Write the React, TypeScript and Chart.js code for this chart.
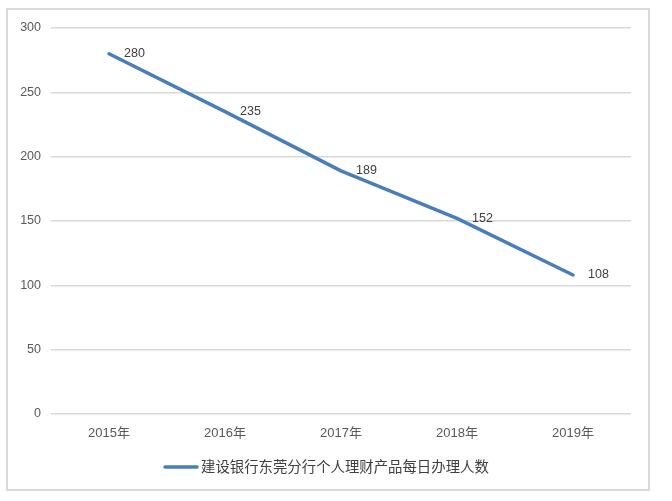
import React, { useEffect, useRef } from "react";
import { Chart, registerables } from "chart.js";

Chart.register(...registerables);

const categories = ["2015年", "2016年", "2017年", "2018年", "2019年"];
const seriesName = "建设银行东莞分行个人理财产品每日办理人数";
const values = [280, 235, 189, 152, 108];
const yTicks = [0, 50, 100, 150, 200, 250, 300];

const LINE_COLOR = "#4a7ebb";
const FONT = "'Liberation Sans', 'Noto Sans CJK SC', sans-serif";

const dataLabelPlugin = {
  id: "dataLabels",
  afterDatasetsDraw(chart: any) {
    const ctx = chart.ctx;
    const meta = chart.getDatasetMeta(0);
    ctx.save();
    ctx.font = `12.5px ${FONT}`;
    ctx.fillStyle = "#404040";
    ctx.textAlign = "left";
    ctx.textBaseline = "middle";
    meta.data.forEach((pt: any, i: number) => {
      ctx.fillText(String(values[i]), pt.x + 15, pt.y);
    });
    ctx.restore();
  },
};

const legendPlugin = {
  id: "customLegend",
  afterDraw(chart: any) {
    const ctx = chart.ctx;
    const y = 467;
    ctx.save();
    ctx.strokeStyle = LINE_COLOR;
    ctx.lineWidth = 3.5;
    ctx.lineCap = "round";
    ctx.beginPath();
    ctx.moveTo(165, y);
    ctx.lineTo(197, y);
    ctx.stroke();
    ctx.font = `14.4px 'Noto Sans CJK SC', sans-serif`;
    ctx.fillStyle = "#404040";
    ctx.textAlign = "left";
    ctx.textBaseline = "middle";
    ctx.fillText(chart.data.datasets[0].label, 201, y);
    ctx.restore();
  },
};

export default function App() {
  const ref = useRef<HTMLCanvasElement | null>(null);
  useEffect(() => {
    if (!ref.current) return;
    const chart = new Chart(ref.current, {
      type: "line",
      data: {
        labels: categories,
        datasets: [
          {
            label: seriesName,
            data: values,
            borderColor: LINE_COLOR,
            borderWidth: 3.5,
            pointRadius: 0,
            borderCapStyle: "round",
            borderJoinStyle: "round",
            tension: 0,
          },
        ],
      },
      options: {
        animation: false,
        responsive: false,
        maintainAspectRatio: false,
        layout: { padding: { top: 28, right: 41, left: 0, bottom: 0 } },
        plugins: {
          legend: { display: false },
          tooltip: { enabled: false },
        },
        scales: {
          x: {
            type: "category",
            offset: true,
            grid: { display: false, drawTicks: false },
            border: { display: false },
            ticks: {
              padding: 12,
              color: "#595959",
              font: { family: FONT, size: 13 },
              maxRotation: 0,
            },
            afterFit(scale: any) {
              scale.height = 87;
            },
          },
          y: {
            min: 0,
            max: 300,
            afterBuildTicks(scale: any) {
              scale.ticks = yTicks.map((v) => ({ value: v }));
            },
            grid: { color: "#d9d9d9", lineWidth: 1.5, drawTicks: false },
            border: { display: false },
            ticks: {
              padding: 10,
              color: "#595959",
              font: { family: FONT, size: 12.5 },
            },
            afterFit(scale: any) {
              scale.width = 51;
            },
          },
        },
      },
      plugins: [dataLabelPlugin, legendPlugin],
    } as any);
    return () => chart.destroy();
  }, []);

  return (
    <div style={{ position: "absolute", left: 0, top: 0, width: 672, height: 501, background: "#fff" }}>
      <div
        style={{
          position: "absolute",
          left: 6,
          top: 8,
          width: 640,
          height: 479,
          border: "2px solid #d9d9d9",
          boxSizing: "content-box",
        }}
      />
      <canvas ref={ref} width={672} height={501} style={{ position: "absolute", left: 0, top: 0 }} />
    </div>
  );
}
